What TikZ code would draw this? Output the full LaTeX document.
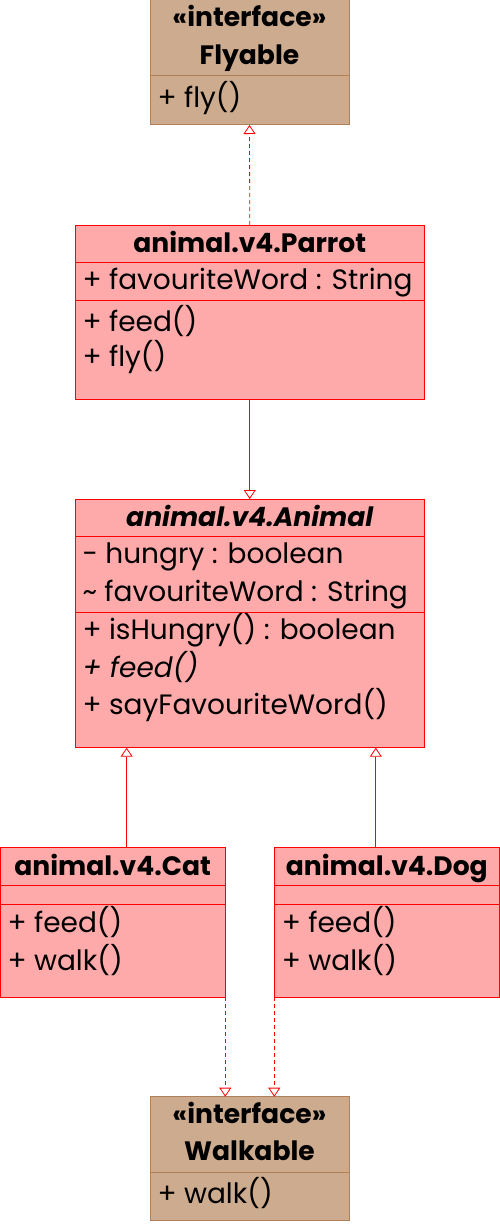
\documentclass[tikz,border=0pt]{standalone}
\usepackage{fontspec}
\setmainfont{Poppins}
\usetikzlibrary{arrows.meta}
\definecolor{pinkfill}{HTML}{FFAAAA}
\definecolor{redline}{HTML}{FF0000}
\definecolor{tanfill}{HTML}{CDAB8F}
\definecolor{tanline}{HTML}{B0805A}
\newcommand{\txtsize}{\fontsize{28}{30}\selectfont}
\newcommand{\ttlsize}{\fontsize{26.6}{30}\selectfont}
\tikzset{
  classbox/.style={draw, line width=1pt, inner sep=0pt, outer sep=0pt, anchor=north west},
  pinkbox/.style={classbox, fill=pinkfill, draw=redline},
  tanbox/.style={classbox, fill=tanfill, draw=tanline},
  txt/.style={inner sep=0pt, outer sep=0pt, anchor=base west, font=\txtsize},
  ttl/.style={inner sep=0pt, outer sep=0pt, anchor=base, font=\ttlsize\bfseries},
  realize/.style={draw=redline, line width=0.8pt, dash pattern=on 4pt off 3pt, -{Triangle[open, width=12pt, length=9pt, line width=0.8pt, fill=white]}},
  inherit/.style={draw=redline, line width=0.8pt, -{Triangle[open, width=12pt, length=9pt, line width=0.8pt, fill=white]}},
}
\begin{document}
\begin{tikzpicture}[x=1pt, y=-1pt]
\useasboundingbox (0,0) rectangle (500,1225);
% Flyable
\node[tanbox, minimum width=199pt, minimum height=125pt] (flyable) at (150,0) {};
\draw[tanline, line width=1pt] (150,76) -- (349,76);
\node[ttl] (flyst) at (249.5,27) {«interface»};
\node[ttl] (flyname) at (249.5,65) {Flyable};
\node[txt] (flym) at (157.5,108) {+ fly()};
% Parrot
\node[pinkbox, minimum width=349.5pt, minimum height=174pt] (parrot) at (75,225) {};
\draw[redline, line width=1pt] (75,262.3) -- (424.5,262.3);
\draw[redline, line width=1pt] (75,300) -- (424.5,300);
\node[ttl] (parrotname) at (249.75,252) {animal.v4.Parrot};
\node[txt] (parrota) at (82.5,289) {+ favouriteWord : String};
\node[txt] (parrotm1) at (82.5,331) {+ feed()};
\node[txt] (parrotm2) at (82.5,366) {+ fly()};
% Animal
\node[pinkbox, minimum width=349.5pt, minimum height=248.7pt] (animal) at (75,499) {};
\draw[redline, line width=1pt] (75,536.7) -- (424.5,536.7);
\draw[redline, line width=1pt] (75,612.3) -- (424.5,612.3);
\node[ttl, font=\ttlsize\bfseries\itshape] (animalname) at (249.75,526) {animal.v4.Animal};
\node[txt] (animala1) at (82.5,563.5) {- hungry : boolean};
\node[txt] (animala2) at (82.5,601.5) {\char"007E{} favouriteWord : String};
\node[txt] (animalm1) at (82.5,639) {+ isHungry() : boolean};
\node[txt, font=\txtsize\itshape] (animalm2) at (82.5,677) {+ feed()};
\node[txt] (animalm3) at (82.5,714) {+ sayFavouriteWord()};
% Cat
\node[pinkbox, minimum width=225.3pt, minimum height=149.6pt] (cat) at (0,847.7) {};
\draw[redline, line width=1pt] (0,885.3) -- (225.3,885.3);
\draw[redline, line width=1pt] (0,904.3) -- (225.3,904.3);
\node[ttl] (catname) at (112.65,875.5) {animal.v4.Cat};
\node[txt] (catm1) at (7.5,932) {+ feed()};
\node[txt] (catm2) at (7.5,970.5) {+ walk()};
% Dog
\node[pinkbox, minimum width=225pt, minimum height=149.6pt] (dog) at (274.3,847.7) {};
\draw[redline, line width=1pt] (274.3,885.3) -- (499.3,885.3);
\draw[redline, line width=1pt] (274.3,904.3) -- (499.3,904.3);
\node[ttl] (dogname) at (386.8,875.5) {animal.v4.Dog};
\node[txt] (dogm1) at (281.8,932) {+ feed()};
\node[txt] (dogm2) at (281.8,970.5) {+ walk()};
% Walkable
\node[tanbox, minimum width=199pt, minimum height=124pt] (walkable) at (150,1096.7) {};
\draw[tanline, line width=1pt] (150,1172.7) -- (349,1172.7);
\node[ttl] (walkst) at (249.5,1123.5) {«interface»};
\node[ttl] (walkname) at (249.5,1160.5) {Walkable};
\node[txt] (walkm) at (157.5,1203.5) {+ walk()};
% connectors
\draw[realize] (parrot.north) -- (flyable.south);
\draw[inherit] (parrot.south) -- (animal.north);
\draw[inherit] ([xshift=14pt]cat.north) -- ([xshift=14pt]cat.north |- animal.south);
\draw[inherit] ([xshift=-11pt]dog.north) -- ([xshift=-11pt]dog.north |- animal.south);
\draw[realize] (cat.south east) -- (cat.south east |- walkable.north);
\draw[realize] (dog.south west) -- (dog.south west |- walkable.north);
\end{tikzpicture}
\end{document}
